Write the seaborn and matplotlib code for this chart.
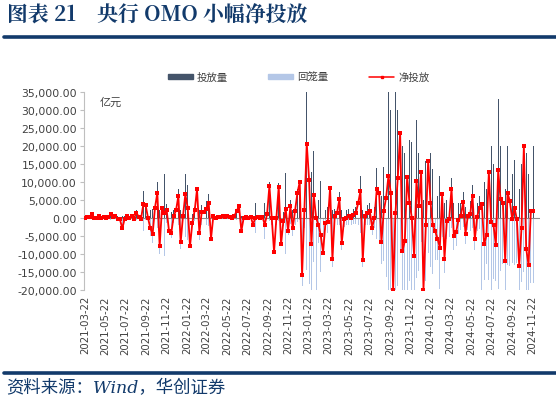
import matplotlib
matplotlib.use('Agg')
import matplotlib.pyplot as plt
import matplotlib.patches as mpatches
import matplotlib.lines as mlines
import pandas as pd
import seaborn as sns
from matplotlib.ticker import FuncFormatter

# weekly data, 2021-03-22 .. 2024-11-25 (亿元)
start_date = '2021-03-22'

net_injection = [
    0, 300, 100, 900, 0, -200, 600, 0, 100, 0, 200, 900, 300, 400, -300, -500, -3000, -300, 500, -200, 500, -300,
    1400, 300, -400, 3700, 3400, 0, -3000, -4400, 2800, 6900, -7900, 2800, 1400, 2100, -3700, -4200, 500, 2000,
    6000, -6800, 500, 6500, 2800, -7900, -1400, 2000, 7900, -4200, 1500, 1600, 2500, 4200, -5800, 500, 0, 300,
    200, 400, 300, 400,
    300, 0, 500, 1900, 3200, -3700, 0, 300, 0, 300, -1900, 0, 300, 0, 300, -1900, 900, 8800, 0, -9500, 0, 8600,
    -7400, -900, 2300, -3700, 3200, -3000, 1900, 6900, 9900, -16000, 2100, 20600, 10600, -7400, 6200, 0, -1900,
    -4900, -9700, -1400, -1200, 8300, -11600, 500, 1400, 5100, -6900, -500, 0, 600, 0, 700, 1200, 4000, 7400,
    -11800, 500, 1400, 1900, -2800, 0, 7900, 6900, -6800,
    1900, 5600, 11600, 6900, -20000, 1400, 11100, 23600, -9300, -6500, 11400, 4200, 0, -10600, 10200, 3200,
    12700, -20000, -1900, 15700, 4200, -2100, -3700, -5800, -8300, 6500, -11400, -900, -500, 8100, -5100, -4000,
    -600, 500, 4400, -4400, 500, 900, 6000, -6000, 300, 2800, 3700, -7400, -4900, 12700, -1200, -2100, -7700,
    13200, 5100, 4200, -12000, 6900, 4600, -500, 2800, -500, -13400, -2800, 19900, -8600, -13200, 1900, 1900,
]

injection = [
    500, 800, 600, 1500, 500, 500, 1100, 500, 600, 500, 700, 1500, 800, 900, 500, 500, 500, 500, 1000, 500, 1000, 6500,
    2000, 800, 600, 7400, 4000, 3000, 2000, 2500, 5000, 9900, 2100, 4800, 12000, 3700, 1000, 1500, 2000, 3500,
    8000, 2000, 2500, 12000, 9000, 1000, 1000, 3000, 9000, 2000, 3500, 3500, 4500, 6500, 1000, 1000, 500, 800,
    700, 900, 800, 900,
    800, 500, 1000, 2500, 4200, 500, 500, 800, 500, 800, 500, 4200, 800, 500, 800, 4000, 1500, 9800, 2000, 500,
    2000, 9600, 2000, 1500, 12500, 1000, 5000, 2000, 4000, 8000, 10600, 3000, 5000, 35000, 29000, 12600, 18500,
    21800, 5000, 10200, 500, 2000, 3000, 10000, 2000, 2500, 3500, 7000, 2000, 2000, 2000, 2500, 2000, 2500, 3000,
    6000, 11600, 2000, 2500, 3500, 4000, 2000, 3000, 13900, 13000, 6000,
    14000, 22000, 35000, 30000, 15000, 35000, 30000, 33000, 20000, 18000, 32000, 21700, 21000, 10000, 27000,
    18000, 19400, 5000, 15700, 25600, 18000, 13600, 8000, 6000, 11600, 12000, 4000, 5000, 5000, 11000, 4000, 4000,
    4000, 4000, 7000, 3000, 4000, 4500, 9000, 3000, 4000, 6000, 30000, 10000, 8000, 30000, 20000, 15000, 10000,
    33000, 20000, 17000, 8000, 20000, 18000, 12000, 16000, 12000, 8000, 15000, 35000, 18000, 12000, 20000, 20000,
]

withdrawal = [
    -500, -500, -500, -600, -500, -700, -500, -500, -500, -500, -500, -600, -500, -500, -800, -1000, -3500, -800,
    -500, -700, -500, -6800,
    -600, -500, -1000, -3700, -600, -3000, -5000, -6900, -2200, -3000, -10000, -2000, -10600, -1600, -4700, -5700,
    -1500, -1500, -2000, -8800, -2000, -5500, -6200, -8900, -2400, -1000, -1100, -6200, -2000, -1900, -2000, -2300,
    -6800, -500, -500, -500, -500, -500, -500, -500,
    -500, -500, -500, -600, -1000, -4200, -500, -500, -500, -500, -2400, -4200, -500, -500, -500, -5900, -600,
    -1000, -2000, -10000, -2000, -1000, -9400, -2400, -10200, -4700, -1800, -5000, -2100, -1100, -700, -19000,
    -2900, -14400, -18400, -20000, -12300, -21800, -6900, -15100, -10200, -3400, -4200, -1700, -13600, -2000,
    -2100, -1900, -8900, -2500, -2000, -1900, -2000, -1800, -1800, -2000, -4200, -13800, -2000, -2100, -2100,
    -4800, -3000, -6000, -6100, -12800,
    -12100, -16400, -23400, -23100, -35000, -33600, -18900, -9400, -29300, -24500, -20600, -17500, -21000, -20600,
    -16800, -14800, -6700, -25000, -17600, -9900, -13800, -15700, -11700, -11800, -19900, -5500, -15400, -5900,
    -5500, -2900, -9100, -8000, -4600, -3500, -2600, -7400, -3500, -3600, -3000, -9000, -3700, -3200, -26300,
    -17400, -12900, -17300, -21200, -17100, -17700, -19800, -14900, -12800, -20000, -13100, -13400, -12500, -13200,
    -12500, -21400, -17800, -15100, -26600, -25200, -18100, -18100,
]

tick_labels = [
    '2021-03-22', '2021-05-22', '2021-07-22', '2021-09-22', '2021-11-22', '2022-01-22', '2022-03-22',
    '2022-05-22', '2022-07-22', '2022-09-22', '2022-11-22', '2023-01-22', '2023-03-22', '2023-05-22',
    '2023-07-22', '2023-09-22', '2023-11-22', '2024-01-22', '2024-03-22', '2024-05-22', '2024-07-22',
    '2024-09-22', '2024-11-22',
]
y_ticks = [35000, 30000, 25000, 20000, 15000, 10000, 5000, 0, -5000, -10000, -15000, -20000]

df = pd.DataFrame({
    'date': pd.date_range(start_date, periods=len(net_injection), freq='7D'),
    'net': net_injection,
    'inj': injection,
    'wd': withdrawal,
})

sns.set_theme(style='white')
plt.rcParams['font.family'] = ['DejaVu Sans', 'Noto Sans CJK SC']
navy = '#123a6b'
dark_bar = '#44546a'
light_bar = '#b4c7e7'

fig = plt.figure(figsize=(5.56, 4.10), dpi=100)
ax = fig.add_axes([0.151, 0.291, 0.82, 0.483])

ax.bar(df['date'], df['wd'], width=2.6, color=light_bar, linewidth=0, zorder=1)
ax.bar(df['date'], df['inj'], width=2.0, color=dark_bar, linewidth=0, zorder=2)
ax.axhline(0, color='#8c8c8c', linewidth=0.8, zorder=3)
sns.lineplot(data=df, x='date', y='net', ax=ax, color='#ff0000', linewidth=1.3,
             marker='s', markersize=2.3, markeredgewidth=0, zorder=4)

ax.set_ylim(-20000, 35000)
ax.set_xlim(pd.Timestamp('2021-03-19'), pd.Timestamp('2024-12-15'))
ax.set_yticks(y_ticks)
ax.yaxis.set_major_formatter(FuncFormatter(lambda v, p: f'{v:,.2f}'))
ax.set_xticks(pd.to_datetime(tick_labels))
ax.set_xticklabels(tick_labels, rotation=90, fontsize=7.3, color='#404040')
ax.tick_params(axis='y', labelsize=7.8, colors='#404040', length=3, width=0.8, left=True, pad=2)
ax.tick_params(axis='y', color='#bfbfbf')
ax.tick_params(axis='x', length=0, pad=4)
ax.set_xlabel('')
ax.set_ylabel('')
for s in ['top', 'right', 'bottom']:
    ax.spines[s].set_visible(False)
ax.spines['left'].set_color('#bfbfbf')
ax.spines['left'].set_linewidth(0.8)
ax.set_facecolor('none')

ax.text(0.035, 0.975, '亿元', transform=ax.transAxes, fontsize=8, color='#404040',
        family=['Noto Sans CJK SC'], va='top', ha='left')

# legend
handles = [
    mpatches.Patch(color=dark_bar, label='投放量'),
    mpatches.Patch(color=light_bar, label='回笼量'),
    mlines.Line2D([], [], color='#ff0000', linewidth=1.1, marker='s', markersize=2, label='净投放'),
]
fig.legend(handles=handles, loc='center', bbox_to_anchor=(0.537, 0.81), ncol=3, frameon=False,
           fontsize=7.5, handlelength=2.4, handleheight=0.35, columnspacing=3.9, handletextpad=0.4,
           labelcolor='#404040')

# title, rules, source
fig.text(0.012, 0.962, '图表 21    央行 OMO 小幅净投放', fontsize=15, fontweight='bold', color=navy,
         family=['Noto Serif CJK SC', 'Noto Sans CJK SC'], va='center', ha='left')
fig.add_artist(mlines.Line2D([0.008, 1.0], [0.907, 0.907], color=navy, linewidth=2.6))
fig.add_artist(mlines.Line2D([0.008, 1.0], [0.088, 0.088], color=navy, linewidth=2.6))
fig.text(0.012, 0.053, '资料来源：Wind，华创证券', fontsize=12.5, color=navy, style='italic',
         family=['DejaVu Serif', 'Noto Sans CJK SC'], va='center', ha='left')

fig.savefig('out.png', dpi=100)
